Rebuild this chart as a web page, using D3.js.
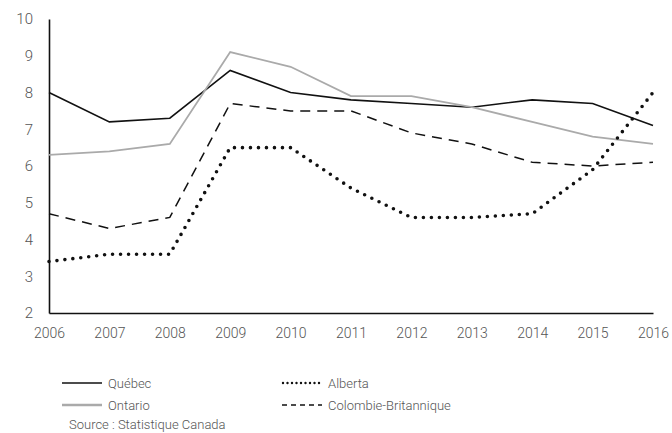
<!DOCTYPE html>
<html lang="fr">
<head>
<meta charset="UTF-8">
<title>Taux de chômage</title>
<script src="https://d3js.org/d3.v7.min.js"></script>
<style>
body { margin: 0; background: #fff; }
text { font-family: "Roboto", "Liberation Sans", sans-serif; font-weight: 300; fill: #555; }
</style>
</head>
<body>
<div id="chart"></div>
<script>
const years = [2006, 2007, 2008, 2009, 2010, 2011, 2012, 2013, 2014, 2015, 2016];
const quebec = [8.0, 7.2, 7.3, 8.6, 8.0, 7.8, 7.7, 7.6, 7.8, 7.7, 7.1];
const ontario = [6.3, 6.4, 6.6, 9.1, 8.7, 7.9, 7.9, 7.6, 7.2, 6.8, 6.6];
const alberta = [3.4, 3.6, 3.6, 6.5, 6.5, 5.4, 4.6, 4.6, 4.7, 5.9, 8.0];
const colombie = [4.7, 4.3, 4.6, 7.7, 7.5, 7.5, 6.9, 6.6, 6.1, 6.0, 6.1];
const yTicks = [2, 3, 4, 5, 6, 7, 8, 9, 10];

const series = [
    {name: "Québec", values: quebec, color: "#111", width: 1.6, dash: null, cap: "butt"},
    {name: "Ontario", values: ontario, color: "#aaa", width: 1.8, dash: null, cap: "butt"},
    {name: "Alberta", values: alberta, color: "#111", width: 3.6, dash: "0 8", cap: "round"},
    {name: "Colombie-Britannique", values: colombie, color: "#111", width: 1.5, dash: "10 7", cap: "butt"}
];

const width = 672, height = 433;
const margin = {top: 19, right: 20, bottom: 120, left: 49};

const svg = d3.select("#chart").append("svg")
    .attr("width", width)
    .attr("height", height);

const x = d3.scaleLinear()
    .domain([2006, 2016])
    .range([margin.left, 653]);

const y = d3.scaleLinear()
    .domain([2, 10])
    .range([313, margin.top]);

// axes
svg.append("g")
    .attr("transform", "translate(0,313)")
    .call(d3.axisBottom(x).tickValues(years).tickFormat(d3.format("d")).tickSize(0).tickPadding(15))
    .call(g => g.select(".domain").attr("stroke", "#111").attr("stroke-width", 1.6))
    .call(g => g.selectAll("text").attr("font-size", 14).attr("fill", "#666")
        .attr("font-family", "Roboto, sans-serif"));

svg.append("g")
    .attr("transform", `translate(${margin.left},0)`)
    .call(d3.axisLeft(y).tickValues(yTicks).tickSize(0).tickPadding(16))
    .call(g => g.select(".domain").attr("stroke", "#111").attr("stroke-width", 1.6))
    .call(g => g.selectAll("text").attr("font-size", 15).attr("fill", "#666")
        .attr("font-family", "Roboto, sans-serif"));

const line = d3.line()
    .x((d, i) => x(years[i]))
    .y(d => y(d));

svg.selectAll("path.serie")
    .data(series)
    .enter().append("path")
    .attr("class", "serie")
    .attr("fill", "none")
    .attr("stroke", d => d.color)
    .attr("stroke-width", d => d.width)
    .attr("stroke-dasharray", d => d.dash)
    .attr("stroke-linecap", d => d.cap)
    .attr("stroke-linejoin", "miter")
    .attr("d", d => line(d.values));

// legend
const legendPos = [[62, 383], [62, 405], [282, 383], [282, 405]];
const legend = svg.selectAll("g.legend")
    .data(series)
    .enter().append("g")
    .attr("class", "legend")
    .attr("transform", (d, i) => `translate(${legendPos[i][0]},${legendPos[i][1]})`);

legend.append("line")
    .attr("x1", d => d.name === "Alberta" ? 1 : 0)
    .attr("x2", 40)
    .attr("stroke", d => d.color)
    .attr("stroke-width", d => d.name === "Alberta" ? 2.4 : (d.name === "Ontario" ? 2.4 : d.width))
    .attr("stroke-dasharray", d => d.name === "Alberta" ? "0 4.5" : (d.dash ? "5 4" : null))
    .attr("stroke-linecap", d => d.cap);

legend.append("text")
    .attr("x", 46)
    .attr("dy", "0.35em")
    .attr("font-size", 13)
    .attr("fill", "#444")
    .text(d => d.name);

svg.append("text")
    .attr("x", 69)
    .attr("y", 429)
    .attr("font-size", 13)
    .attr("fill", "#444")
    .text("Source : Statistique Canada");
</script>
</body>
</html>
